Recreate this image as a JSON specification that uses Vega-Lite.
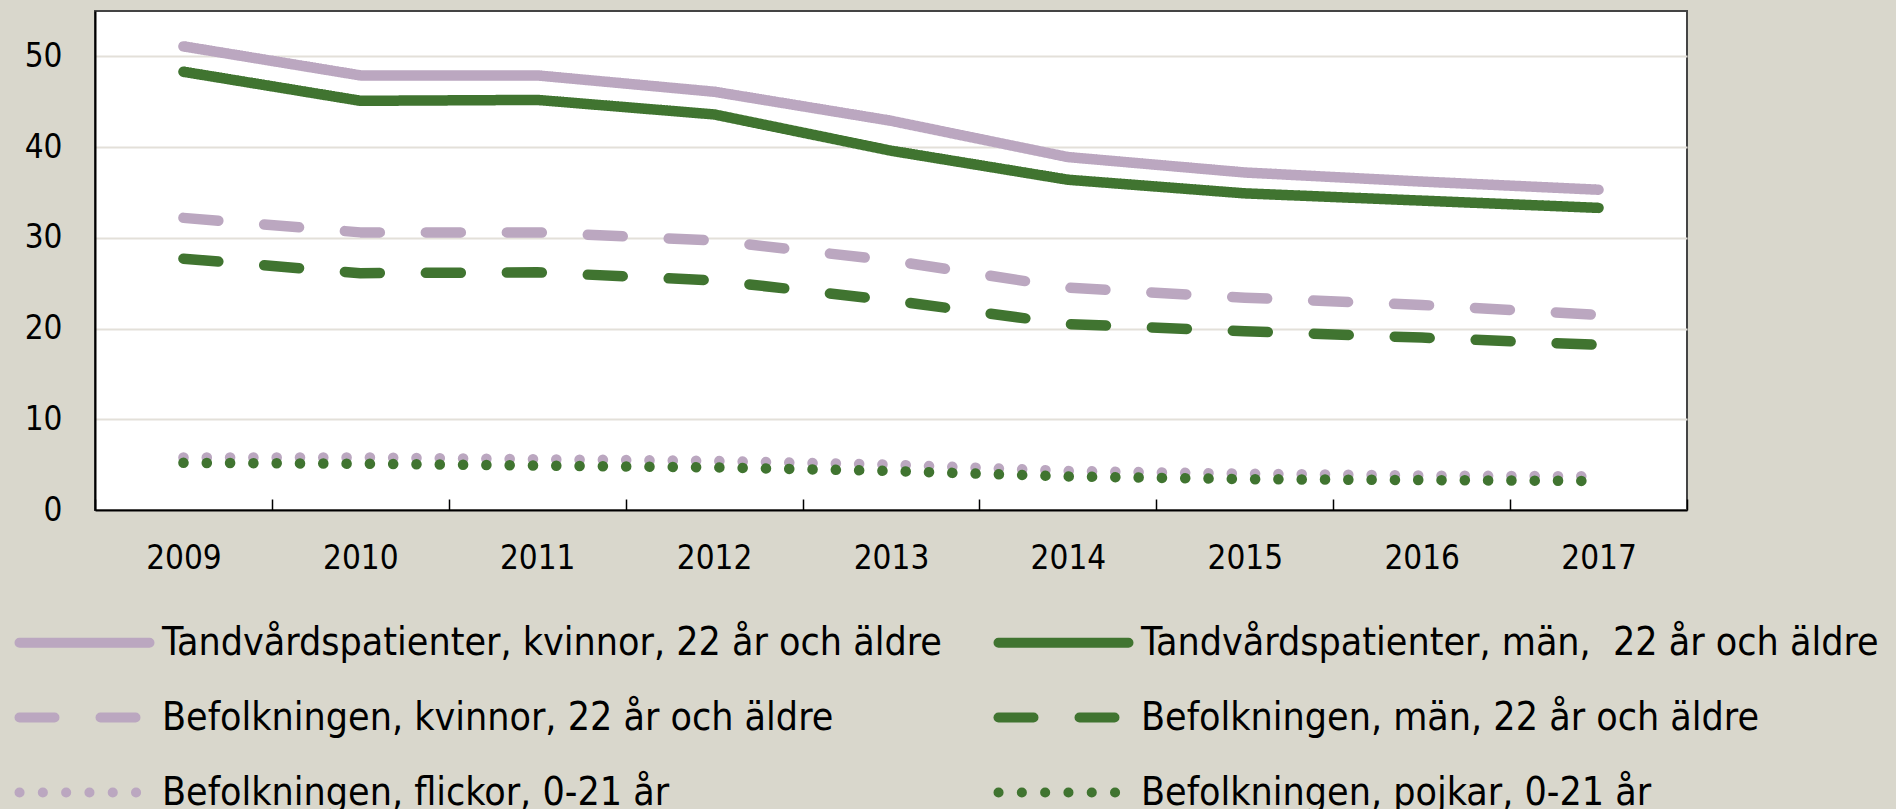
{
  "$schema": "https://vega.github.io/schema/vega-lite/v6.json",
  "width": 1592,
  "height": 499,
  "autosize": {"type": "none"},
  "padding": {"left": 95, "top": 11, "right": 209, "bottom": 299},
  "background": "#d9d7cc",
  "config": {
    "view": {"fill": "white", "stroke": "#444444", "strokeWidth": 2},
    "font": "DejaVu Sans Condensed, Liberation Sans, sans-serif",
    "axis": {"labelFont": "DejaVu Sans Condensed, Liberation Sans, sans-serif", "labelColor": "black"},
    "legend": {"labelFont": "DejaVu Sans Condensed, Liberation Sans, sans-serif", "labelColor": "black"}
  },
  "data": {
    "values": [
      {"year": "2009", "series": "Tandvårdspatienter, kvinnor, 22 år och äldre", "value": 51.1},
      {"year": "2010", "series": "Tandvårdspatienter, kvinnor, 22 år och äldre", "value": 47.9},
      {"year": "2011", "series": "Tandvårdspatienter, kvinnor, 22 år och äldre", "value": 47.9},
      {"year": "2012", "series": "Tandvårdspatienter, kvinnor, 22 år och äldre", "value": 46.1},
      {"year": "2013", "series": "Tandvårdspatienter, kvinnor, 22 år och äldre", "value": 42.9},
      {"year": "2014", "series": "Tandvårdspatienter, kvinnor, 22 år och äldre", "value": 38.9},
      {"year": "2015", "series": "Tandvårdspatienter, kvinnor, 22 år och äldre", "value": 37.2},
      {"year": "2016", "series": "Tandvårdspatienter, kvinnor, 22 år och äldre", "value": 36.2},
      {"year": "2017", "series": "Tandvårdspatienter, kvinnor, 22 år och äldre", "value": 35.3},
      {"year": "2009", "series": "Tandvårdspatienter, män, \u00a022 år och äldre", "value": 48.3},
      {"year": "2010", "series": "Tandvårdspatienter, män, \u00a022 år och äldre", "value": 45.1},
      {"year": "2011", "series": "Tandvårdspatienter, män, \u00a022 år och äldre", "value": 45.2},
      {"year": "2012", "series": "Tandvårdspatienter, män, \u00a022 år och äldre", "value": 43.6},
      {"year": "2013", "series": "Tandvårdspatienter, män, \u00a022 år och äldre", "value": 39.6},
      {"year": "2014", "series": "Tandvårdspatienter, män, \u00a022 år och äldre", "value": 36.4},
      {"year": "2015", "series": "Tandvårdspatienter, män, \u00a022 år och äldre", "value": 34.9},
      {"year": "2016", "series": "Tandvårdspatienter, män, \u00a022 år och äldre", "value": 34.1},
      {"year": "2017", "series": "Tandvårdspatienter, män, \u00a022 år och äldre", "value": 33.3},
      {"year": "2009", "series": "Befolkningen, kvinnor, 22 år och äldre", "value": 32.2},
      {"year": "2010", "series": "Befolkningen, kvinnor, 22 år och äldre", "value": 30.6},
      {"year": "2011", "series": "Befolkningen, kvinnor, 22 år och äldre", "value": 30.6},
      {"year": "2012", "series": "Befolkningen, kvinnor, 22 år och äldre", "value": 29.7},
      {"year": "2013", "series": "Befolkningen, kvinnor, 22 år och äldre", "value": 27.5},
      {"year": "2014", "series": "Befolkningen, kvinnor, 22 år och äldre", "value": 24.5},
      {"year": "2015", "series": "Befolkningen, kvinnor, 22 år och äldre", "value": 23.4},
      {"year": "2016", "series": "Befolkningen, kvinnor, 22 år och äldre", "value": 22.6},
      {"year": "2017", "series": "Befolkningen, kvinnor, 22 år och äldre", "value": 21.5},
      {"year": "2009", "series": "Befolkningen, män, 22 år och äldre", "value": 27.7},
      {"year": "2010", "series": "Befolkningen, män, 22 år och äldre", "value": 26.1},
      {"year": "2011", "series": "Befolkningen, män, 22 år och äldre", "value": 26.2},
      {"year": "2012", "series": "Befolkningen, män, 22 år och äldre", "value": 25.3},
      {"year": "2013", "series": "Befolkningen, män, 22 år och äldre", "value": 23.1},
      {"year": "2014", "series": "Befolkningen, män, 22 år och äldre", "value": 20.5},
      {"year": "2015", "series": "Befolkningen, män, 22 år och äldre", "value": 19.7},
      {"year": "2016", "series": "Befolkningen, män, 22 år och äldre", "value": 19.0},
      {"year": "2017", "series": "Befolkningen, män, 22 år och äldre", "value": 18.2},
      {"year": "2009", "series": "Befolkningen, flickor, 0-21 år", "value": 5.8},
      {"year": "2010", "series": "Befolkningen, flickor, 0-21 år", "value": 5.8},
      {"year": "2011", "series": "Befolkningen, flickor, 0-21 år", "value": 5.6},
      {"year": "2012", "series": "Befolkningen, flickor, 0-21 år", "value": 5.4},
      {"year": "2013", "series": "Befolkningen, flickor, 0-21 år", "value": 5.0},
      {"year": "2014", "series": "Befolkningen, flickor, 0-21 år", "value": 4.3},
      {"year": "2015", "series": "Befolkningen, flickor, 0-21 år", "value": 4.0},
      {"year": "2016", "series": "Befolkningen, flickor, 0-21 år", "value": 3.8},
      {"year": "2017", "series": "Befolkningen, flickor, 0-21 år", "value": 3.7},
      {"year": "2009", "series": "Befolkningen, pojkar, 0-21 år", "value": 5.2},
      {"year": "2010", "series": "Befolkningen, pojkar, 0-21 år", "value": 5.1},
      {"year": "2011", "series": "Befolkningen, pojkar, 0-21 år", "value": 4.9},
      {"year": "2012", "series": "Befolkningen, pojkar, 0-21 år", "value": 4.7},
      {"year": "2013", "series": "Befolkningen, pojkar, 0-21 år", "value": 4.3},
      {"year": "2014", "series": "Befolkningen, pojkar, 0-21 år", "value": 3.7},
      {"year": "2015", "series": "Befolkningen, pojkar, 0-21 år", "value": 3.4},
      {"year": "2016", "series": "Befolkningen, pojkar, 0-21 år", "value": 3.3},
      {"year": "2017", "series": "Befolkningen, pojkar, 0-21 år", "value": 3.2}
    ]
  },
  "mark": {"type": "line", "strokeWidth": 10.5, "strokeCap": "round", "strokeJoin": "round"},
  "encoding": {
    "x": {
      "field": "year",
      "type": "ordinal",
      "scale": {"type": "band", "paddingInner": 0, "paddingOuter": 0},
      "axis": {
        "title": null,
        "labelAngle": 0,
        "labelFontSize": 33,
        "labelPadding": 43,
        "tickBand": "extent",
        "tickSize": -11,
        "tickColor": "black",
        "tickWidth": 1.5,
        "domainColor": "black",
        "domainWidth": 2,
        "grid": false
      }
    },
    "y": {
      "field": "value",
      "type": "quantitative",
      "scale": {"domain": [0, 55], "nice": false},
      "axis": {
        "title": null,
        "values": [0, 10, 20, 30, 40, 50],
        "labelFontSize": 33,
        "labelPadding": 33,
        "ticks": false,
        "domainColor": "black",
        "domainWidth": 2,
        "gridColor": "#e3e0d9",
        "gridWidth": 2
      }
    },
    "color": {
      "field": "series",
      "type": "nominal",
      "scale": {
        "domain": [
          "Tandvårdspatienter, kvinnor, 22 år och äldre",
          "Tandvårdspatienter, män, \u00a022 år och äldre",
          "Befolkningen, kvinnor, 22 år och äldre",
          "Befolkningen, män, 22 år och äldre",
          "Befolkningen, flickor, 0-21 år",
          "Befolkningen, pojkar, 0-21 år"
        ],
        "range": ["#bba7c0", "#407430", "#bba7c0", "#407430", "#bba7c0", "#407430"]
      },
      "legend": {
        "title": null,
        "orient": "none",
        "direction": "horizontal",
        "legendX": -30,
        "legendY": 612,
        "columns": 2,
        "columnPadding": 36,
        "rowPadding": 34,
        "symbolType": "M-13,0H13",
        "symbolSize": 100,
        "symbolStrokeWidth": 10,
        "labelFontSize": 39,
        "labelOffset": 58,
        "labelLimit": 1000,
        "encode": {"symbols": {"update": {"strokeCap": {"value": "round"}}}}
      }
    },
    "strokeDash": {
      "field": "series",
      "type": "nominal",
      "scale": {
        "domain": [
          "Tandvårdspatienter, kvinnor, 22 år och äldre",
          "Tandvårdspatienter, män, \u00a022 år och äldre",
          "Befolkningen, kvinnor, 22 år och äldre",
          "Befolkningen, män, 22 år och äldre",
          "Befolkningen, flickor, 0-21 år",
          "Befolkningen, pojkar, 0-21 år"
        ],
        "range": [[1, 0], [1, 0], [35, 46], [35, 46], [0.1, 23.2], [0.1, 23.2]]
      }
    }
  }
}
